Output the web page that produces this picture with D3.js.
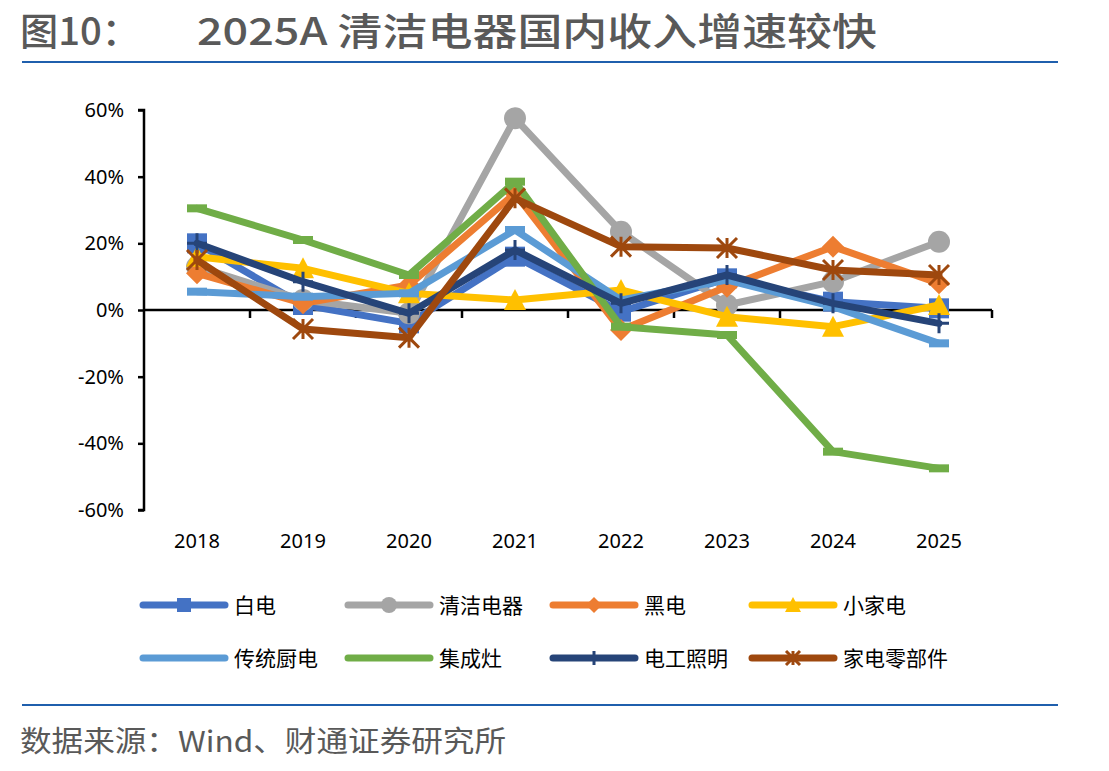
<html>
<head>
<meta charset="utf-8">
<script src="https://d3js.org/d3.v7.min.js"></script>
<style>
body { margin: 0; background: #fff; }
text { font-family: "Noto Sans CJK SC", "Noto Sans", sans-serif; }
</style>
</head>
<body>
<div id="chart"></div>
<script>
// data (%)
var years = ["2018","2019","2020","2021","2022","2023","2024","2025"];
var baidian   = [20, 1.5, -4, 16, -0.5, 9.5, 2.5, 0.5];
var qingjie   = [13, 3, -1, 57.5, 23.5, 1.5, 8.5, 20.5];
var heidian   = [11, 2, 7.5, 35, -6, 7, 19, 8];
var xiaojia   = [16, 12.5, 5, 3, 6, -2, -5, 1.5];
var chudian   = [5.5, 4, 5, 24, 3, 9, 1, -10];
var jichengzao= [30.5, 21, 10.5, 38.5, -5, -7.5, -42.5, -47.5];
var diangong  = [20, 8.5, -1, 18, 2, 10.5, 2, -4];
var lingbujian= [15, -5.7, -8.3, 33.5, 19, 18.6, 12, 10.5];
var yTicks = [60, 40, 20, 0, -20, -40, -60];

var series = [
  {name:"白电", values:baidian, color:"#4472C4", marker:"square"},
  {name:"清洁电器", values:qingjie, color:"#A5A5A5", marker:"circle"},
  {name:"黑电", values:heidian, color:"#ED7D31", marker:"diamond"},
  {name:"小家电", values:xiaojia, color:"#FFC000", marker:"triangle"},
  {name:"传统厨电", values:chudian, color:"#5B9BD5", marker:"dash"},
  {name:"集成灶", values:jichengzao, color:"#70AD47", marker:"dash"},
  {name:"电工照明", values:diangong, color:"#264478", marker:"plus"},
  {name:"家电零部件", values:lingbujian, color:"#9E480E", marker:"star"}
];

const w = 1109, h = 771;
const svg = d3.select("#chart").append("svg").attr("width", w).attr("height", h);

// title + rules
svg.append("text").attr("x", 20).attr("y", 45)
  .attr("font-size", 38).attr("font-weight", 500).attr("fill", "#595959")
  .attr("textLength", 120).attr("lengthAdjust", "spacingAndGlyphs")
  .text("图10：");
svg.append("text").attr("x", 197).attr("y", 45)
  .attr("font-size", 38).attr("font-weight", 500).attr("fill", "#595959")
  .attr("textLength", 680).attr("lengthAdjust", "spacingAndGlyphs")
  .text("2025A 清洁电器国内收入增速较快");
svg.append("line").attr("x1", 22).attr("x2", 1058).attr("y1", 62).attr("y2", 62)
  .attr("stroke", "#1F5FAD").attr("stroke-width", 2);
svg.append("line").attr("x1", 22).attr("x2", 1058).attr("y1", 705).attr("y2", 705)
  .attr("stroke", "#1F5FAD").attr("stroke-width", 2);
svg.append("text").attr("x", 20).attr("y", 752)
  .attr("font-size", 29).attr("fill", "#595959")
  .attr("textLength", 486).attr("lengthAdjust", "spacingAndGlyphs")
  .text("数据来源：Wind、财通证券研究所");

const x = d3.scaleBand().domain(years).range([144, 992]);
const y = d3.scaleLinear().domain([-60, 60]).range([510, 110]);

// y axis
const yAxis = d3.axisLeft(y).tickValues(yTicks).tickSize(6).tickPadding(14)
  .tickFormat(d => d + "%");
const gy = svg.append("g").attr("transform", "translate(144,0)").call(yAxis);
gy.select(".domain").attr("stroke", "#000").attr("stroke-width", 2.5).attr("d", "M-6,110H0V510H-6");
gy.selectAll(".tick line").attr("stroke", "#000").attr("stroke-width", 2.5);
gy.selectAll(".tick text").attr("font-size", 20).attr("fill", "#000")
  .style("font-family", "'Noto Sans', sans-serif");

// x axis along zero line, ticks between categories
const bounds = d3.range(years.length + 1).map(i => 144 + i * x.bandwidth());
const gx = svg.append("g");
gx.append("line").attr("x1", 144).attr("x2", 992).attr("y1", y(0)).attr("y2", y(0))
  .attr("stroke", "#000").attr("stroke-width", 2.5);
gx.selectAll(".xt").data(bounds.slice(1)).enter().append("line")
  .attr("x1", d => d).attr("x2", d => d).attr("y1", y(0)).attr("y2", y(0) + 8)
  .attr("stroke", "#000").attr("stroke-width", 2.5);
gx.selectAll(".xl").data(years).enter().append("text")
  .attr("x", d => x(d) + x.bandwidth() / 2).attr("y", 548)
  .attr("text-anchor", "middle").attr("font-size", 20).attr("fill", "#000")
  .style("font-family", "'Noto Sans', sans-serif")
  .text(d => d);

function drawMarker(g, type, color, s) {
  if (type === "square") {
    g.append("rect").attr("x", -s/2).attr("y", -s/2).attr("width", s).attr("height", s).attr("fill", color);
  } else if (type === "circle") {
    g.append("circle").attr("r", s/2 + 1).attr("fill", color);
  } else if (type === "diamond") {
    g.append("path").attr("d", `M0,${-s/2-1}L${s/2+1},0L0,${s/2+1}L${-s/2-1},0Z`).attr("fill", color);
  } else if (type === "triangle") {
    g.append("path").attr("d", `M0,${-s/2-1}L${s/2+1},${s/2}L${-s/2-1},${s/2}Z`).attr("fill", color);
  } else if (type === "dash") {
    g.append("rect").attr("x", -s/2).attr("y", -s*0.2).attr("width", s).attr("height", s*0.4).attr("fill", color);
  } else if (type === "plus") {
    g.append("path").attr("d", `M0,${-s/2}V${s/2}M${-s/2},0H${s/2}`)
      .attr("stroke", color).attr("stroke-width", 3);
  } else if (type === "star") {
    const r = s/2;
    g.append("path").attr("d", `M${-r},${-r}L${r},${r}M${-r},${r}L${r},${-r}M0,${-r}V${r}`)
      .attr("stroke", color).attr("stroke-width", 3);
  }
}

const line = d3.line().x((d, i) => x(years[i]) + x.bandwidth() / 2).y(d => y(d));

series.forEach(function(s) {
  const g = svg.append("g");
  g.append("path").datum(s.values).attr("d", line)
    .attr("fill", "none").attr("stroke", s.color).attr("stroke-width", 7)
    .attr("stroke-linejoin", "round").attr("stroke-linecap", "round");
  g.selectAll(".m").data(s.values).enter().append("g")
    .attr("transform", (d, i) => `translate(${x(years[i]) + x.bandwidth()/2},${y(d)})`)
    .each(function() { drawMarker(d3.select(this), s.marker, s.color, 20); });
});

// legend
const legX = [143, 348, 553, 752];
const legY = [605, 658];
series.forEach(function(s, i) {
  const lx = legX[i % 4], ly = legY[Math.floor(i / 4)];
  const g = svg.append("g").attr("transform", `translate(${lx},${ly})`);
  g.append("line").attr("x1", 0).attr("x2", 82).attr("y1", 0).attr("y2", 0)
    .attr("stroke", s.color).attr("stroke-width", 7).attr("stroke-linecap", "round");
  const m = g.append("g").attr("transform", "translate(41,0)");
  drawMarker(m, s.marker, s.color, 14);
  g.append("text").attr("x", 91).attr("y", 8).attr("font-size", 21).attr("fill", "#000").text(s.name);
});
</script>
</body>
</html>
